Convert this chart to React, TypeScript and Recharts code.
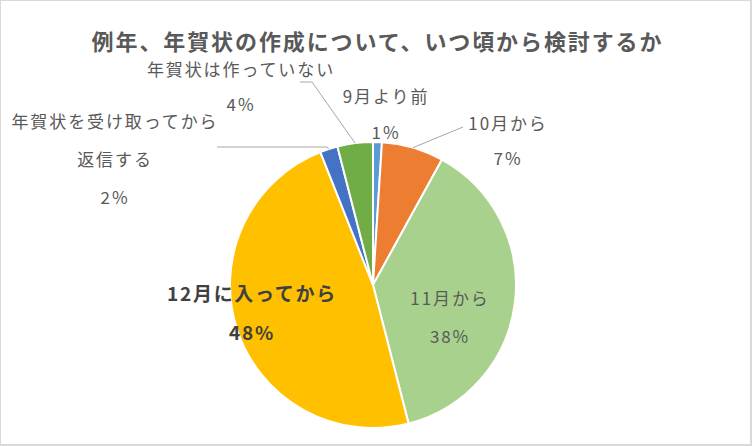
import React from 'react';
import { PieChart, Pie, Cell } from 'recharts';

const categories = [
  '9月より前',
  '10月から',
  '11月から',
  '12月に入ってから',
  '年賀状を受け取ってから返信する',
  '年賀状は作っていない',
];
const shares = [1, 7, 38, 48, 2, 4];
const labelLines = [
  ['9月より前', '1%'],
  ['10月から', '7%'],
  ['11月から', '38%'],
  ['12月に入ってから', '48%'],
  ['年賀状を受け取ってから', '返信する', '2%'],
  ['年賀状は作っていない', '4%'],
];
const colors = ['#5B9BD5', '#ED7D31', '#A9D18E', '#FFC000', '#4472C4', '#70AD47'];

const data = categories.map((name, i) => ({ name, value: shares[i] }));

// label placement, offsets from the pie centre
const labelPos = [
  { x: 12, y: [-190, -154] },
  { x: 134, y: [-163, -128] },
  { x: 76, y: [12, 50] },
  { x: -122, y: [7, 46], bold: true },
  { x: -259, y: [-165, -127, -89] },
  { x: -133, y: [-217, -182] },
];
// leader line bends (after the slice edge point)
const leaders: Record<number, [number, number][]> = {
  1: [[90, -158]],
  4: [[-46, -138], [-156, -138]],
  5: [[-61, -203], [-73, -203]],
};

const RAD = Math.PI / 180;
const FONT = '"Noto Sans CJK JP", "Noto Sans", sans-serif';

const renderLabel = (props: any) => {
  const { cx, cy, midAngle, outerRadius, index } = props;
  const pos = labelPos[index];
  const lines = labelLines[index];
  const ex = cx + outerRadius * Math.cos(-midAngle * RAD);
  const ey = cy + outerRadius * Math.sin(-midAngle * RAD);
  const bends = leaders[index];
  return (
    <g>
      {bends && (
        <polyline
          points={[[ex, ey], ...bends.map(([dx, dy]) => [cx + dx, cy + dy])]
            .map((p) => p.join(','))
            .join(' ')}
          fill="none"
          stroke="#a6a6a6"
          strokeWidth={1}
        />
      )}
      {lines.map((t, k) => (
        <text
          key={k}
          x={cx + pos.x + 1}
          y={cy + pos.y[k]}
          textAnchor="middle"
          dominantBaseline="central"
          fill={pos.bold ? '#404040' : '#595959'}
          fontSize={pos.bold ? 19 : 17}
          fontWeight={pos.bold ? 'bold' : 'normal'}
          letterSpacing={pos.bold ? 1.7 : 1.9}
          fontFamily={FONT}
        >
          {t}
        </text>
      ))}
    </g>
  );
};

export default function App() {
  return (
    <div
      style={{
        position: 'fixed',
        left: 0,
        top: 0,
        width: 752,
        height: 446,
        boxSizing: 'border-box',
        borderTop: '1px solid #d9d9d9',
        borderLeft: '1px solid #d9d9d9',
        borderRight: '2px solid #d9d9d9',
        borderBottom: '2px solid #d9d9d9',
        background: '#fff',
      }}
    >
      <div
        style={{
          position: 'absolute',
          left: 0,
          top: 25,
          width: '100%',
          textAlign: 'center',
          fontFamily: FONT,
          fontSize: 22,
          fontWeight: 'bold',
          letterSpacing: 1.9,
          color: '#595959',
          lineHeight: '28px',
          paddingLeft: 2,
        }}
      >
        例年、年賀状の作成について、いつ頃から検討するか
      </div>
      <PieChart
        width={749}
        height={443}
        margin={{ top: 0, right: 0, bottom: 0, left: 0 }}
        style={{ position: 'absolute', left: 0, top: 0 }}
      >
        <Pie
          data={data}
          dataKey="value"
          nameKey="name"
          cx={372}
          cy={284}
          outerRadius={143}
          startAngle={90}
          endAngle={-270}
          stroke="#fff"
          strokeWidth={2}
          label={renderLabel}
          labelLine={false}
          isAnimationActive={false}
        >
          {data.map((d, i) => (
            <Cell key={d.name} fill={colors[i]} />
          ))}
        </Pie>
      </PieChart>
    </div>
  );
}
